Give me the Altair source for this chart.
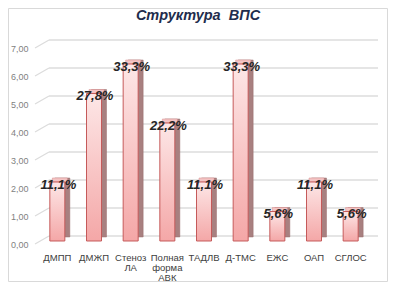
import altair as alt
import pandas as pd

title_text = ["Структура\u00a0 ВПС"]
categories = ["ДМПП", "ДМЖП", "Стеноз ЛА", "Полная форма АВК", "ТАДЛВ",
              "Д-ТМС", "ЕЖС", "ОАП", "СГЛОС"]
counts = [2, 5, 6, 4, 2, 6, 1, 2, 1]
pct_labels = ["11,1%", "27,8%", "33,3%", "22,2%", "11,1%", "33,3%", "5,6%", "11,1%", "5,6%"]
y_ticks = [0, 1, 2, 3, 4, 5, 6, 7]

df = pd.DataFrame({"cat": categories, "v": counts, "lbl": pct_labels})
grid_df = pd.DataFrame({"t": y_ticks})
title_df = pd.DataFrame({"title": title_text})

W, H = 330, 196
DEPTH_DY = -8

grid_scale = alt.Scale(domain=[0, 7], nice=False, zero=False)
bar_scale = alt.Scale(domain=[-0.1017, 6.542], nice=False, zero=False)

yaxis = alt.Axis(values=y_ticks, title=None, domain=False, ticks=False, grid=False,
                 labelExpr="replace(format(datum.value, '.2f'), '.', ',')",
                 labelPadding=11, labelFontSize=9, labelColor="#7f7f7f",
                 labelFont="Liberation Sans")

grid_front = alt.Chart(grid_df).mark_rule(color="#dcdcdc", strokeWidth=1.3, y2Offset=DEPTH_DY).encode(
    x=alt.value(-4), x2=alt.value(10),
    y=alt.Y("t:Q", scale=grid_scale, axis=yaxis),
    y2=alt.Y2("t:Q"),
)
grid_back = alt.Chart(grid_df).mark_rule(color="#dcdcdc", strokeWidth=1.3, yOffset=DEPTH_DY).encode(
    x=alt.value(10), x2=alt.value(339),
    y=alt.Y("t:Q", scale=grid_scale, axis=yaxis),
)
border = alt.Chart(title_df).mark_rect(fillOpacity=0, stroke="#d9d9d9", strokeWidth=1).encode(
    x=alt.value(-30.5), x2=alt.value(348.5), y=alt.value(-39.5), y2=alt.value(233.5)
)
title_mark = alt.Chart(title_df).mark_text(font="Liberation Sans", fontSize=14.5, fontStyle="italic",
                                           fontWeight="bold", color="#1f2d4d",
                                           align="center", baseline="middle").encode(
    x=alt.value(159), y=alt.value(-32), text="title:N"
)

grid_layer = alt.layer(border, grid_front, grid_back, title_mark)

xaxis = alt.Axis(title=None, labelAngle=0, domain=False, ticks=False, labelPadding=8,
                 labelFontSize=9.5, labelLineHeight=10, labelColor="#404040",
                 labelFont="Liberation Sans", labelExpr="split(datum.label, ' ')",
                 labelOverlap=False, labelLimit=60)
xenc = alt.X("cat:N", sort=categories, axis=xaxis,
             scale=alt.Scale(paddingInner=0, paddingOuter=0))

side = alt.Chart(df).mark_bar(size=15, xOffset=5, yOffset=-4, y2Offset=-4,
                              color="#a88080", stroke="#9a6e6e", strokeWidth=0.5).encode(
    x=xenc,
    y=alt.Y("v:Q", scale=bar_scale, axis=None),
    y2=alt.Y2(datum=0),
)
top = alt.Chart(df).mark_bar(size=15, xOffset=2.5, yOffset=-4, y2Offset=0,
                             color="#f3c4c4", stroke="#d98c8c", strokeWidth=0.5).encode(
    x=xenc,
    y=alt.Y("v:Q", scale=bar_scale, axis=None),
    y2=alt.Y2("v:Q"),
)
grad = alt.LinearGradient(gradient="linear",
                          stops=[alt.GradientStop(offset=0, color="#fde7e7"),
                                 alt.GradientStop(offset=1, color="#f4a7a7")],
                          x1=0, x2=0, y1=0, y2=1)
front = alt.Chart(df).mark_bar(size=15, fill=grad, stroke="#c55a5a", strokeWidth=1).encode(
    x=xenc,
    y=alt.Y("v:Q", scale=bar_scale, axis=None),
    y2=alt.Y2(datum=0),
)
text = alt.Chart(df).mark_text(font="Liberation Sans", fontSize=13, fontWeight="bold",
                               fontStyle="italic", color="#262626", baseline="middle",
                               dy=3, dx=1).encode(
    x=xenc,
    y=alt.Y("v:Q", scale=bar_scale, axis=None),
    text="lbl:N",
)
bar_layer = alt.layer(side, top, front, text)

chart = alt.layer(grid_layer, bar_layer).resolve_scale(y="independent").properties(
    width=W, height=H,
    autosize=alt.AutoSizeParams(type="none"),
    padding={"left": 31, "top": 40, "right": 19, "bottom": 38},
    background="white",
).configure_view(strokeWidth=0)

chart.save("out.html", embed_options={"renderer": "svg", "actions": False})
